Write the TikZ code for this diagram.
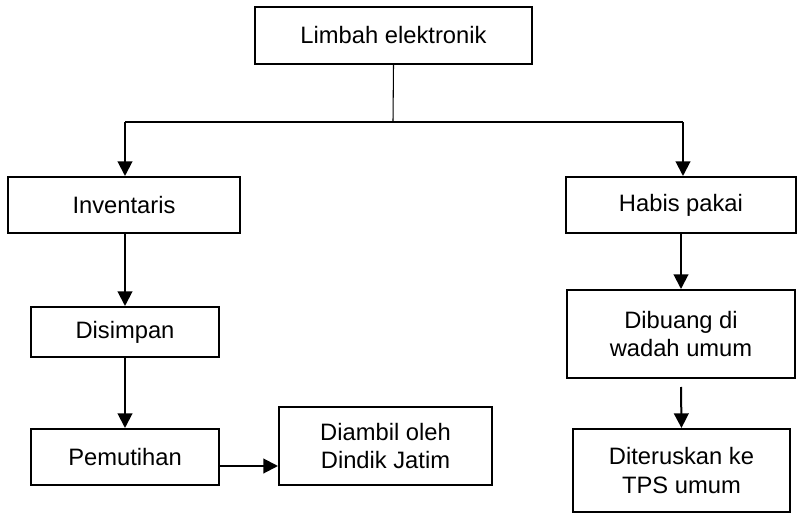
\documentclass[tikz,border=0pt]{standalone}
\usepackage{fontspec}
\setmainfont{Liberation Sans}
\usetikzlibrary{arrows.meta}
\begin{document}
\begin{tikzpicture}[x=0.75pt,y=-0.75pt,
  box/.style={draw=black, line width=1.5pt, rectangle, align=center,
    inner sep=2pt, font=\fontsize{17.8}{21.5}\selectfont},
  arr/.style={line width=1.5pt, -{Triangle[width=11pt,length=11pt]}},
  thin/.style={line width=0.8pt}]
\useasboundingbox (0,0) rectangle (797,514);

% boxes
\node[box, minimum width=207.75pt, minimum height=42.75pt] (lim) at (393.5,35.5) {Limbah elektronik};
\node[box, minimum width=174pt, minimum height=42pt] (inv) at (124,205) {Inventaris};
\node[box, minimum width=172.5pt, minimum height=42pt] (hab) at (681,205) {Habis pakai};
\node[box, minimum width=141pt, minimum height=37.5pt] (dis) at (125,332) {Disimpan};
\node[box, minimum width=171pt, minimum height=66pt] (dib) at (681,334) {Dibuang di\\wadah umum};
\node[box, minimum width=141pt, minimum height=42pt] (pem) at (125,457) {Pemutihan};
\node[box, minimum width=159.75pt, minimum height=58.5pt] (dia) at (385.5,446) {Diambil oleh\\Dindik Jatim};
\node[box, minimum width=162.75pt, minimum height=62.25pt] (dit) at (681.5,470.5) {Diteruskan ke\\TPS umum};

% branching from the top box
\coordinate (split) at (393,122);
\coordinate (lsplit) at (125,122);
\coordinate (rsplit) at (683,122);
\draw[thin] (lim.south) -- (split);
\draw[thin] (lsplit) -- (rsplit);
\draw[arr] (lsplit) -- (lsplit |- inv.north);
\draw[arr] (rsplit) -- (rsplit |- hab.north);

% left branch
\draw[arr] (dis.north |- inv.south) -- (dis.north);
\draw[arr] (dis.south) -- (pem.north);
\draw[arr] (pem.east |- 0,466) -- (dia.west |- 0,466);

% right branch
\draw[arr] (hab.south) -- (dib.north);
\draw[arr] ([yshift=-6pt]dib.south) -- (dit.north);
\end{tikzpicture}
\end{document}
